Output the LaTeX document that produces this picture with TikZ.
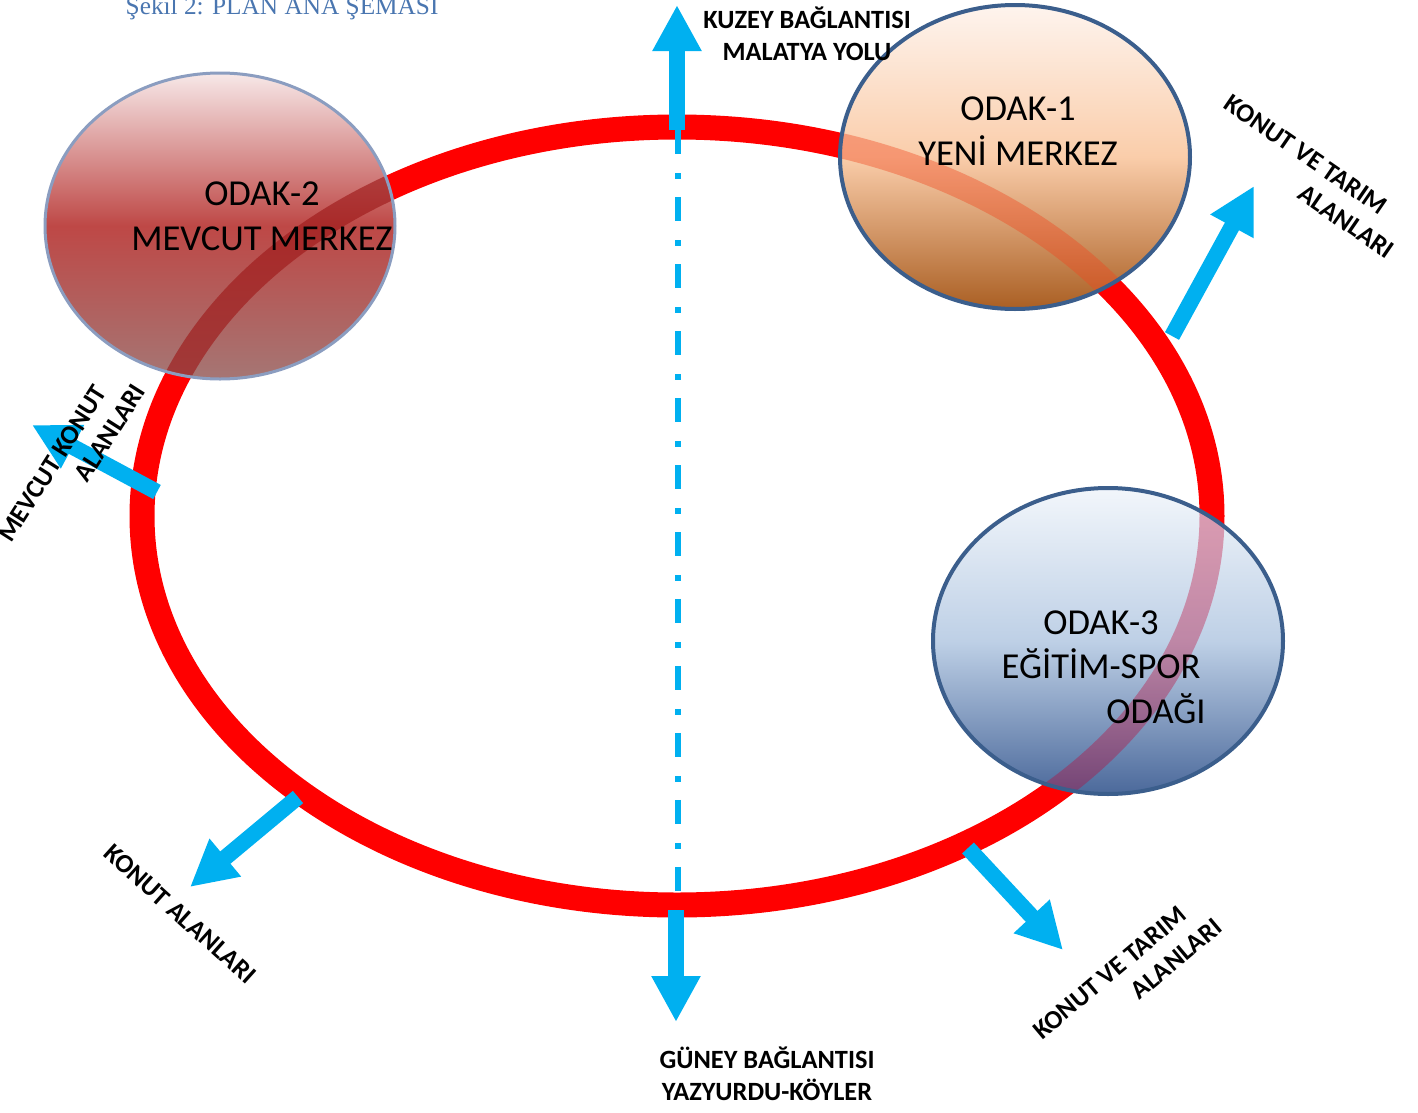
\documentclass[tikz,border=0pt]{standalone}
\usepackage{fontspec}
\setmainfont{Carlito}
\newfontfamily\baslikfont{Liberation Serif}
\usetikzlibrary{arrows.meta}
\definecolor{okmavi}{HTML}{00B0F0}
\definecolor{baslikmavi}{HTML}{4A76B0}
\definecolor{kenarmavi}{HTML}{3B5E8C}
\definecolor{kenargri}{HTML}{8B9DC0}

\begin{document}
\begin{tikzpicture}[x=0.1mm, y=-0.1mm,
  halka/.style={draw=red, line width=2.5mm},
  ok/.style={draw=okmavi, line width=1.6mm, -{Triangle[width=4.6mm, length=4.6mm]}},
  odakyazi/.style={align=center, inner sep=0pt, font=\fontsize{10.4}{12.7}\selectfont},
  yonyazi/.style={align=center, inner sep=0pt, font=\bfseries\fontsize{7.5}{9.2}\selectfont}]
\useasboundingbox (0,0) rectangle (1418,1113);

% ana halka ve eksen
\draw[halka] (677,516) ellipse [x radius=535, y radius=389];
\coordinate (eksen1) at (678,130);
\coordinate (eksen2) at (678,892);
\draw[okmavi, line width=0.6mm, dash pattern=on 2.4mm off 1.9mm on 0.6mm off 1.8mm] (eksen1) -- (eksen2);

% kuzey ve guney baglantilari
\coordinate (kuzey1) at (677,130);
\coordinate (kuzey2) at (677,5);
\coordinate (guney1) at (676,910);
\coordinate (guney2) at (676,1022);
\draw[ok] (kuzey1) -- (kuzey2);
\draw[ok] (guney1) -- (guney2);

% odak-2
\shade[top color={rgb,255:red,247;green,232;blue,232}, bottom color={rgb,255:red,165;green,118;blue,116}, middle color={rgb,255:red,190;green,72;blue,70}] (220,226) ellipse [x radius=175, y radius=153];
\begin{scope}
\clip (220,226) ellipse [x radius=175, y radius=153];
\draw[halka, draw={rgb,255:red,158;green,26;blue,26}, draw opacity=0.65] (677,516) ellipse [x radius=535, y radius=389];
\end{scope}
\draw[kenargri, line width=0.3mm] (220,226) ellipse [x radius=175, y radius=153];

% odak-1
\shade[top color={rgb,255:red,254;green,244;blue,238}, bottom color={rgb,255:red,170;green,95;blue,35}, middle color={rgb,255:red,250;green,205;blue,170}] (1015,157) ellipse [x radius=175, y radius=152];
\begin{scope}
\clip (1015,157) ellipse [x radius=175, y radius=152];
\draw[halka, draw={rgb,255:red,240;green,70;blue,30}, draw opacity=0.4] (677,516) ellipse [x radius=535, y radius=389];
\end{scope}
\draw[kenarmavi, line width=0.4mm] (1015,157) ellipse [x radius=175, y radius=152];

% odak-3
\shade[top color={rgb,255:red,242;green,246;blue,251}, bottom color={rgb,255:red,75;green,105;blue,155}, middle color={rgb,255:red,190;green,208;blue,230}] (1108,641) ellipse [x radius=175, y radius=153];
\begin{scope}
\clip (1108,641) ellipse [x radius=175, y radius=153];
\draw[halka, draw={rgb,255:red,192;green,0;blue,48}, draw opacity=0.35] (677,516) ellipse [x radius=535, y radius=389];
\end{scope}
\draw[kenarmavi, line width=0.4mm] (1108,641) ellipse [x radius=175, y radius=153];

% konut alanlari oklari
\coordinate (kd1) at (1172,336);
\coordinate (kd2) at (1254,186);
\coordinate (bati1) at (157,492);
\coordinate (bati2) at (32,425);
\coordinate (gb1) at (298,797);
\coordinate (gb2) at (190,887);
\coordinate (gd1) at (968,848);
\coordinate (gd2) at (1063,950);
\draw[ok] (kd1) -- (kd2);
\draw[ok] (bati1) -- (bati2);
\draw[ok] (gb1) -- (gb2);
\draw[ok] (gd1) -- (gd2);

% yazilar
\node[anchor=base west, inner sep=0pt, text=baslikmavi, font=\baslikfont\fontsize{7.2}{8}\selectfont] (baslik) at (125,14) {Şekil 2: PLAN ANA ŞEMASI};
\node[odakyazi] (odak2yazi) at (262,216) {ODAK-2\\MEVCUT MERKEZ};
\node[odakyazi] (odak1yazi) at (1018,131) {ODAK-1\\YENİ MERKEZ};
\node[odakyazi] (odak3yazi) at (1101,667) {ODAK-3\\EĞİTİM-SPOR\\\hspace*{11mm}ODAĞI};
\node[yonyazi] (kuzeyyazi) at (807,34) {KUZEY BAĞLANTISI\\MALATYA YOLU};
\node[yonyazi] (guneyyazi) at (767,1074) {GÜNEY BAĞLANTISI\\YAZYURDU-KÖYLER};
\node[yonyazi, rotate=-34.5] (kdyazi) at (1297,168) {KONUT VE TARIM\\\hspace*{14.2mm}ALANLARI};
\node[yonyazi, rotate=40] (gdyazi) at (1120,985) {KONUT VE TARIM\\\hspace*{12mm}ALANLARI};
\node[yonyazi, rotate=57.6] (batiyazi) at (66,472) {MEVCUT KONUT\\\hspace*{11.3mm}ALANLARI};
\node[yonyazi, rotate=-42] (gbyazi) at (180,914) {KONUT ALANLARI};
\end{tikzpicture}
\end{document}
